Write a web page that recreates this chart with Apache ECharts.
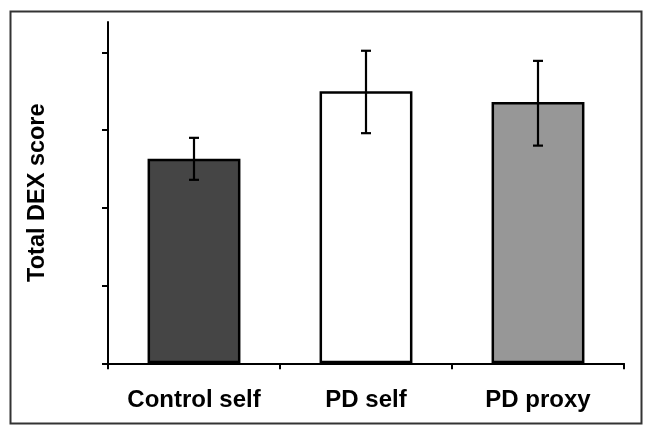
<!DOCTYPE html>
<html>
<head>
<meta charset="utf-8">
<script src="https://cdn.jsdelivr.net/npm/echarts@6/dist/echarts.min.js"></script>
<style>
html,body{margin:0;padding:0;background:#fff;}
#chart{width:649px;height:431px;}
</style>
</head>
<body>
<div id="chart"></div>
<script>
const categories = ['Control self', 'PD self', 'PD proxy'];
const means = [13.15, 17.5, 16.8];
const errLow = [11.8, 14.8, 14.0];
const errHigh = [14.5, 20.1, 19.45];
const barColors = ['#454545', '#ffffff', '#979797'];
const yTicks = [0, 5, 10, 15, 20];

const chart = echarts.init(document.getElementById('chart'));
const option = {
  animation: false,
  backgroundColor: '#fff',
  graphic: [{
    type: 'rect',
    left: 8, top: 9,
    shape: {width: 631, height: 412},
    style: {fill: 'none', stroke: '#333', lineWidth: 2},
    z: 100
  }],
  grid: {left: 108, right: 25, top: 22, bottom: 67.7},
  xAxis: {
    type: 'category',
    data: categories,
    axisLine: {lineStyle: {color: '#000', width: 2}},
    axisTick: {show: true, interval: 0, length: 6, lineStyle: {color: '#000', width: 2}},
    axisLabel: {interval: 0, hideOverlap: false, color: '#000', fontFamily: 'Liberation Sans, Arial', fontWeight: 'bold', fontSize: 24, margin: 25}
  },
  yAxis: {
    type: 'value',
    min: 0, max: 21.95, interval: 5,
    name: 'Total DEX score',
    nameLocation: 'middle',
    nameGap: 58,
    nameTextStyle: {color: '#000', fontFamily: 'Liberation Sans, Arial', fontWeight: 'bold', fontSize: 23.5},
    axisLine: {show: true, lineStyle: {color: '#000', width: 2}},
    axisTick: {show: true, length: 6, customValues: yTicks, lineStyle: {color: '#000', width: 2}},
    axisLabel: {show: false},
    splitLine: {show: false}
  },
  series: [{
    type: 'bar',
    barWidth: '54%',
    data: means.map((v, i) => ({value: v, itemStyle: {color: barColors[i]}})),
    itemStyle: {borderColor: '#000', borderWidth: 2.5},
    z: 2
  }, {
    type: 'custom',
    z: 5,
    data: categories.map((c, i) => [i, errLow[i], errHigh[i]]),
    renderItem: function (params, api) {
      const x = api.value(0);
      const lo = api.coord([x, api.value(1)]);
      const hi = api.coord([x, api.value(2)]);
      const cap = 5;
      const st = {stroke: '#000', lineWidth: 2.2};
      return {
        type: 'group',
        children: [
          {type: 'line', shape: {x1: lo[0], y1: lo[1], x2: hi[0], y2: hi[1]}, style: st},
          {type: 'line', shape: {x1: lo[0] - cap, y1: lo[1], x2: lo[0] + cap, y2: lo[1]}, style: st},
          {type: 'line', shape: {x1: hi[0] - cap, y1: hi[1], x2: hi[0] + cap, y2: hi[1]}, style: st}
        ]
      };
    }
  }]
};
chart.setOption(option);
</script>
</body>
</html>
